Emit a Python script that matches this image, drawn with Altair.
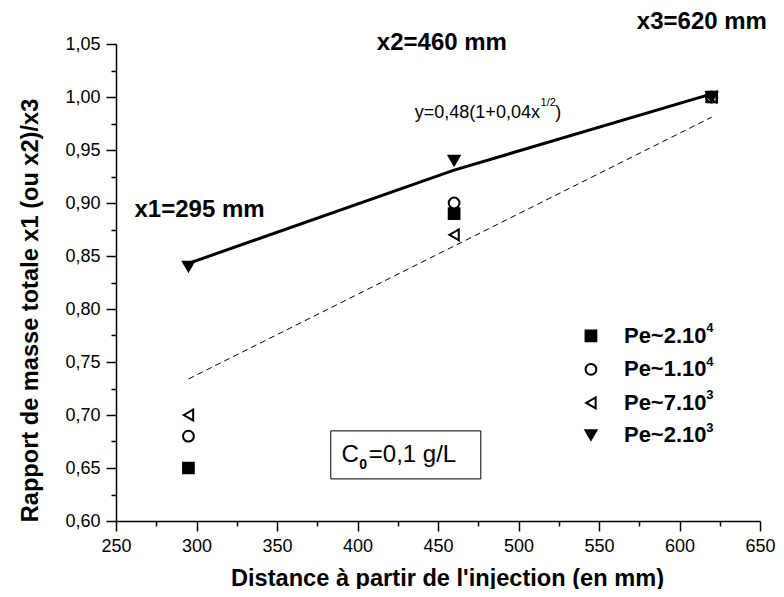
import altair as alt
import pandas as pd

# ---------------- data ----------------
series = ["Pe~2.10", "Pe~1.10", "Pe~7.10", "Pe~2.10 "]
series_exp = ["4", "4", "3", "3"]
distance = [295, 460, 620]
ratio_pe_2e4 = [0.65, 0.89, 1.00]
ratio_pe_1e4 = [0.68, 0.90, 1.00]
ratio_pe_7e3 = [0.70, 0.87, 1.00]
ratio_pe_2e3 = [0.84, 0.94, 1.00]

fit_x = [295, 460, 620]
fit_y = [0.843, 0.931, 1.003]
dash_x = [295, 620]
dash_y = [0.734, 0.981]

x_ticks = [250, 300, 350, 400, 450, 500, 550, 600, 650]
x_minor = [275, 325, 375, 425, 475, 525, 575, 625]
y_ticks = [0.60, 0.65, 0.70, 0.75, 0.80, 0.85, 0.90, 0.95, 1.00, 1.05]
y_minor = [0.625, 0.675, 0.725, 0.775, 0.825, 0.875, 0.925, 0.975, 1.025]

shapes = ["square", "circle", "triangle-left", "triangle-down"]
fills = ["black", "white", "white", "black"]
sizes = [115, 120, 200, 200]

# legend layout (in data units)
legend_sym_x = 545.0
legend_lab_x = 565.5
legend_exp_x = 616.6
legend_y = [0.7747, 0.7431, 0.7114, 0.6812]
legend_exp_dy = 0.0070

# annotation texts (bold labels)
bold_text = ["x1=295 mm", "x2=460 mm", "x3=620 mm"]
bold_x = [261.5, 412.0, 573.5]
bold_y = [0.8937, 1.0514, 1.0712]

formula_main = "y=0,48(1+0,04x"
formula_sup = "1/2"
formula_close = ")"
formula_x = [435.6, 513.7, 522.8]
formula_y = [0.9853, 0.9945, 0.9853]

box_x = [383.4, 476.6]
box_y = [0.6397, 0.6850]
box_main_text = ["C", "=0,1 g/L"]
box_main_x = [390.0, 407.0]
box_sub_text = ["0"]
box_sub_x = [401.1]
box_text_y, box_sub_y = 0.6623, 0.6525

# ---------------- tables ----------------
rows = []
for s, vals in zip(series, [ratio_pe_2e4, ratio_pe_1e4, ratio_pe_7e3, ratio_pe_2e3]):
    for d, v in zip(distance, vals):
        rows.append({"distance": d, "ratio": v, "series": s})
pts_df = pd.DataFrame(rows)
fit_df = pd.DataFrame({"distance": fit_x, "ratio": fit_y})
dash_df = pd.DataFrame({"distance": dash_x, "ratio": dash_y})
bold_df = pd.DataFrame({"t": bold_text, "distance": bold_x, "ratio": bold_y})
leg_df = pd.DataFrame({"series": series, "exp": series_exp, "ratio": legend_y,
                       "sym_x": [legend_sym_x] * 4, "lab_x": [legend_lab_x] * 4,
                       "exp_x": [legend_exp_x] * 4,
                       "exp_y": [v + legend_exp_dy for v in legend_y]})

FONT = "Liberation Sans"
xscale = alt.Scale(domain=[250, 650], nice=False, zero=False)
yscale = alt.Scale(domain=[0.60, 1.05], nice=False, zero=False)

x_axis = alt.Axis(values=x_ticks, title="Distance à partir de l'injection (en mm)", grid=False,
                  tickSize=10, labelFontSize=18, titleFontSize=23.6, titleFontWeight="bold",
                  labelPadding=6, titlePadding=11, orient="bottom", format="d",
                  titleX=331, titleAlign="center",
                  labelFlush=False, labelOverlap=False)
y_axis = alt.Axis(values=y_ticks, title="Rapport de masse totale x1 (ou x2)/x3", grid=False,
                  tickSize=10, labelFontSize=18, titleFontSize=23.6, titleFontWeight="bold",
                  labelPadding=6, orient="left", titleX=-86, titleY=266,
                  titleBaseline="middle", titleAlign="center",
                  labelExpr="replace(format(datum.value, '.2f'), '.', ',')",
                  labelFlush=False, labelOverlap=False)

X = alt.X("distance:Q", scale=xscale, axis=x_axis)
Y = alt.Y("ratio:Q", scale=yscale, axis=y_axis)
NX = lambda f: alt.X(f, type="quantitative", axis=None)
NY = lambda f: alt.Y(f, type="quantitative", axis=None)

minor = alt.Chart(fit_df).mark_point(opacity=0).encode(
    x=alt.X("distance:Q", scale=xscale,
            axis=alt.Axis(values=x_minor, labels=False, domain=False, grid=False, title=None,
                          tickSize=5, orient="bottom")),
    y=alt.Y("ratio:Q", scale=yscale,
            axis=alt.Axis(values=y_minor, labels=False, domain=False, grid=False, title=None,
                          tickSize=5, orient="left")),
)

fit_line = alt.Chart(fit_df).mark_line(color="black", strokeWidth=3).encode(x=X, y=Y)
dash_line = alt.Chart(dash_df).mark_line(color="black", strokeWidth=1, strokeDash=[6, 4]).encode(
    x=NX("distance"), y=NY("ratio"))

shape_enc = alt.Shape("series:N", scale=alt.Scale(domain=series, range=shapes), legend=None)
fill_enc = alt.Fill("series:N", scale=alt.Scale(domain=series, range=fills), legend=None)
size_enc = alt.Size("series:N", scale=alt.Scale(domain=series, range=sizes), legend=None)

points = alt.Chart(pts_df).mark_point(strokeWidth=2, opacity=1, fillOpacity=1).encode(
    x=NX("distance"), y=NY("ratio"),
    shape=shape_enc, fill=fill_enc, size=size_enc, stroke=alt.value("black"),
)

leg_sym = alt.Chart(leg_df).mark_point(strokeWidth=2, opacity=1, fillOpacity=1).encode(
    x=NX("sym_x"), y=NY("ratio"),
    shape=shape_enc, fill=fill_enc, size=size_enc, stroke=alt.value("black"),
)
leg_lab = alt.Chart(leg_df).mark_text(align="left", baseline="middle", fontSize=22,
                                      fontWeight="bold", font=FONT, color="black").encode(
    x=NX("lab_x"), y=NY("ratio"), text="series:N")
leg_exp = alt.Chart(leg_df).mark_text(align="left", baseline="middle", fontSize=13,
                                      fontWeight="bold", font=FONT, color="black").encode(
    x=NX("exp_x"), y=NY("exp_y"), text="exp:N")

bold_labels = alt.Chart(bold_df).mark_text(align="left", baseline="middle", fontSize=24,
                                           fontWeight="bold", font=FONT, color="black").encode(
    x=NX("distance"), y=NY("ratio"), text="t:N")

f_df = pd.DataFrame({"t": [formula_main, formula_sup, formula_close],
                     "distance": formula_x, "ratio": formula_y,
                     "fs": [18, 11, 18]})
formula = alt.Chart(f_df).mark_text(align="left", baseline="middle", font=FONT, color="black").encode(
    x=NX("distance"), y=NY("ratio"), text="t:N",
    size=alt.Size("fs:Q", scale=None, legend=None))

box_df = pd.DataFrame({"x1": [box_x[0]], "x2": [box_x[1]], "y1": [box_y[0]], "y2": [box_y[1]]})
box = alt.Chart(box_df).mark_rect(fill="white", stroke="black", strokeWidth=1).encode(
    x=NX("x1"), x2="x2:Q", y=NY("y1"), y2="y2:Q")

bm_df = pd.DataFrame({"t": box_main_text, "distance": box_main_x,
                      "ratio": [box_text_y] * len(box_main_text)})
box_main = alt.Chart(bm_df).mark_text(align="left", baseline="middle", font=FONT, color="black",
                                      fontSize=24).encode(
    x=NX("distance"), y=NY("ratio"), text="t:N")
bs_df = pd.DataFrame({"t": box_sub_text, "distance": box_sub_x, "ratio": [box_sub_y]})
box_sub = alt.Chart(bs_df).mark_text(align="left", baseline="middle", font=FONT, color="black",
                                     fontSize=14, fontWeight="bold").encode(
    x=NX("distance"), y=NY("ratio"), text="t:N")

chart = alt.layer(fit_line, minor, dash_line, points, leg_sym, leg_lab, leg_exp,
                  bold_labels, formula, box, box_main, box_sub
).resolve_axis(x="independent", y="independent").properties(
    width=644, height=477,
    autosize=alt.AutoSizeParams(type="none"),
    padding={"left": 108, "top": 36, "right": 16, "bottom": 68},
    background="white",
).configure_view(stroke=None).configure_axis(
    labelFont=FONT, titleFont=FONT, labelColor="black", titleColor="black",
    domainColor="black", tickColor="black", domainWidth=1.5, tickWidth=1.5,
)

chart.save("out.html", embed_options={"renderer": "svg", "actions": False})
